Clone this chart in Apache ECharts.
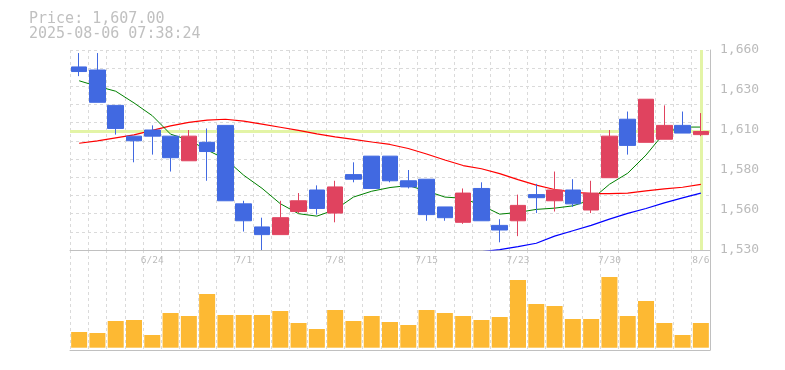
<!DOCTYPE html>
<html><head><meta charset="utf-8">
<script src="https://cdn.jsdelivr.net/npm/echarts/dist/echarts.min.js"></script>
<style>html,body{margin:0;padding:0;background:#fff}#c{width:785px;height:370px}</style>
</head><body><div id="c"></div>
<script>
const dates = ['6/18','6/19','6/20','6/23','6/24','6/25','6/26','6/27','6/30','7/1','7/2','7/3','7/4','7/7','7/8','7/9','7/10','7/11','7/14','7/15','7/16','7/17','7/18','7/22','7/23','7/24','7/25','7/28','7/29','7/30','7/31','8/1','8/4','8/5','8/6'];
const xTickLabels = ['6/24','7/1','7/8','7/15','7/23','7/30','8/6'];
const yTickLabels = ['1,530','1,560','1,580','1,610','1,630','1,660'];
const openP  = [1649,1647,1624,1604,1608,1604,1588,1600,1611,1560,1545,1540,1555,1569,1554,1579,1591,1591,1575,1576,1558,1548,1570,1546,1549,1566,1562,1569,1556,1577,1615,1600,1602,1611,1605];
const closeP = [1646,1626,1609,1601,1604,1590,1604,1594,1562,1549,1540,1551,1562,1557,1571,1576,1570,1575,1571,1553,1551,1567,1549,1543,1559,1564,1569,1560,1567,1604,1598,1628,1611,1606,1607];
const lowP   = [1643,1626,1605,1587,1592,1581,1588,1575,1562,1542,1530,1540,1554,1553,1548,1574,1570,1574,1570,1549,1549,1547,1549,1535,1539,1554,1555,1558,1554,1577,1592,1600,1602,1606,1604];
const highP  = [1658,1658,1624,1604,1611,1604,1608,1609,1611,1562,1551,1562,1567,1572,1575,1587,1591,1591,1582,1576,1558,1570,1574,1550,1566,1573,1581,1576,1575,1608,1620,1628,1624,1620,1619];
const ma5  = [1640.0,1636.4,1633.2,1625.6,1617.3,1605.3,1601.5,1595.0,1589.1,1578.6,1570.1,1560.1,1553.6,1552.0,1556.2,1564.4,1568.2,1570.6,1571.9,1568.4,1564.4,1563.6,1559.0,1553.3,1554.4,1556.4,1557.2,1558.7,1562.6,1572.7,1579.9,1591.7,1606.1,1609.9,1609.9];
const ma25 = [1599.4,1600.9,1602.9,1604.8,1607.8,1610.7,1613.0,1614.4,1615.0,1613.8,1611.8,1609.8,1607.8,1605.5,1603.5,1601.9,1600.2,1598.6,1596.0,1592.4,1588.5,1584.9,1582.8,1579.6,1575.7,1572.2,1569.3,1567.6,1566.7,1566.7,1567.0,1568.4,1569.7,1570.8,1572.7];
const ma75 = [null,null,null,null,null,null,null,null,null,null,null,null,null,null,null,null,null,null,null,null,null,null,1528.9,1530.2,1532.2,1534.4,1539.0,1542.5,1546.0,1550.1,1553.8,1557.0,1560.6,1563.9,1567.0];
const volume = [15.7,14.7,26.7,27.7,12.7,34.7,31.7,53.7,32.7,32.7,32.7,36.7,24.7,18.7,37.7,26.7,31.7,25.7,22.7,37.7,34.7,31.7,27.7,30.7,67.7,43.7,41.7,28.7,28.7,70.7,31.7,46.7,24.7,12.7,24.7];
const currentPrice = 1607;
const headerLines = ['Price: 1,607.00', '2025-08-06 07:38:24'];

const UP = '#E0435F', DOWN = '#4169E1', VOL = '#FDB933', BAND = '#E3F4A6';
const GRIDC = '#DADADA', AXISC = '#C0C0C0', LABC = '#BBBBBB';
const dash = {color: GRIDC, type: [3, 3], width: 1};

const chart = echarts.init(document.getElementById('c'), null, {renderer: 'canvas'});
chart.setOption({
  animation: false,
  backgroundColor: '#fff',
  title: {
    text: headerLines.join('\n'), left: 29, top: 12, padding: 0,
    textStyle: {fontFamily: 'DejaVu Sans Mono', fontSize: 15, fontWeight: 'normal', color: '#C0C0C0', lineHeight: 15}
  },
  grid: [
    {left: 70, right: 75, top: 50, height: 200},
    {left: 70, right: 75, top: 250, height: 100}
  ],
  xAxis: [
    {type: 'category', gridIndex: 0, data: dates, boundaryGap: true,
     axisLine: {onZero: false, lineStyle: {color: AXISC}}, axisTick: {show: false, interval: 0},
     axisLabel: {interval: (i, v) => xTickLabels.includes(v), color: LABC, fontFamily: 'DejaVu Sans Mono', fontSize: 9.5, margin: 6},
     splitLine: {show: true, interval: 0, lineStyle: dash}},
    {type: 'category', gridIndex: 1, data: dates, boundaryGap: true,
     axisLine: {onZero: false, lineStyle: {color: AXISC}}, axisTick: {show: false, interval: 0},
     axisLabel: {show: false},
     splitLine: {show: true, interval: 0, lineStyle: dash}}
  ],
  yAxis: [
    {type: 'value', gridIndex: 0, min: 1530, max: 1660, position: 'right',
     axisLine: {show: false}, axisTick: {show: false}, axisLabel: {show: false}, splitLine: {show: false}},
    {type: 'value', gridIndex: 0, min: 0, max: 5, interval: 1, position: 'right',
     axisLine: {show: true, onZero: false, lineStyle: {color: AXISC}}, axisTick: {show: false},
     axisLabel: {formatter: v => yTickLabels[v], color: LABC, fontFamily: 'DejaVu Sans Mono', fontSize: 13, margin: 10, padding: [5, 0, 0, 0]},
     splitLine: {show: false}},
    {type: 'value', gridIndex: 0, min: 0, max: 11, interval: 1, position: 'left',
     axisLine: {show: false}, axisTick: {show: false}, axisLabel: {show: false},
     splitLine: {show: true, lineStyle: dash}},
    {type: 'value', gridIndex: 1, min: -2.3, max: 97.7, position: 'right',
     axisLine: {show: true, onZero: false, lineStyle: {color: AXISC}}, axisTick: {show: false},
     axisLabel: {show: false}, splitLine: {show: false}}
  ],
  series: [
    {type: 'line', xAxisIndex: 0, yAxisIndex: 0, data: [], z: 1, silent: true,
     markLine: {silent: true, z: 1, symbol: ['none', 'none'], label: {show: false},
       lineStyle: {color: BAND, width: 3, type: 'solid'},
       data: [{yAxis: currentPrice}, {xAxis: dates[dates.length - 1]}]}},
    {type: 'line', name: 'MA75', xAxisIndex: 0, yAxisIndex: 0, data: ma75, symbol: 'none', z: 2,
     lineStyle: {color: '#0000FF', width: 1.2}},
    {type: 'line', name: 'MA25', xAxisIndex: 0, yAxisIndex: 0, data: ma25, symbol: 'none', z: 2,
     lineStyle: {color: '#FF0000', width: 1.2}},
    {type: 'line', name: 'MA5', xAxisIndex: 0, yAxisIndex: 0, data: ma5, symbol: 'none', z: 2,
     lineStyle: {color: '#008000', width: 1}},
    {type: 'candlestick', xAxisIndex: 0, yAxisIndex: 0, barWidth: 16, z: 3,
     data: dates.map((d, i) => [openP[i], closeP[i], lowP[i], highP[i]]),
     itemStyle: {color: UP, color0: DOWN, borderColor: UP, borderColor0: DOWN, borderWidth: 1}},
    {type: 'bar', xAxisIndex: 1, yAxisIndex: 3, data: volume, barWidth: 16,
     itemStyle: {color: VOL}}
  ]
});
</script></body></html>
